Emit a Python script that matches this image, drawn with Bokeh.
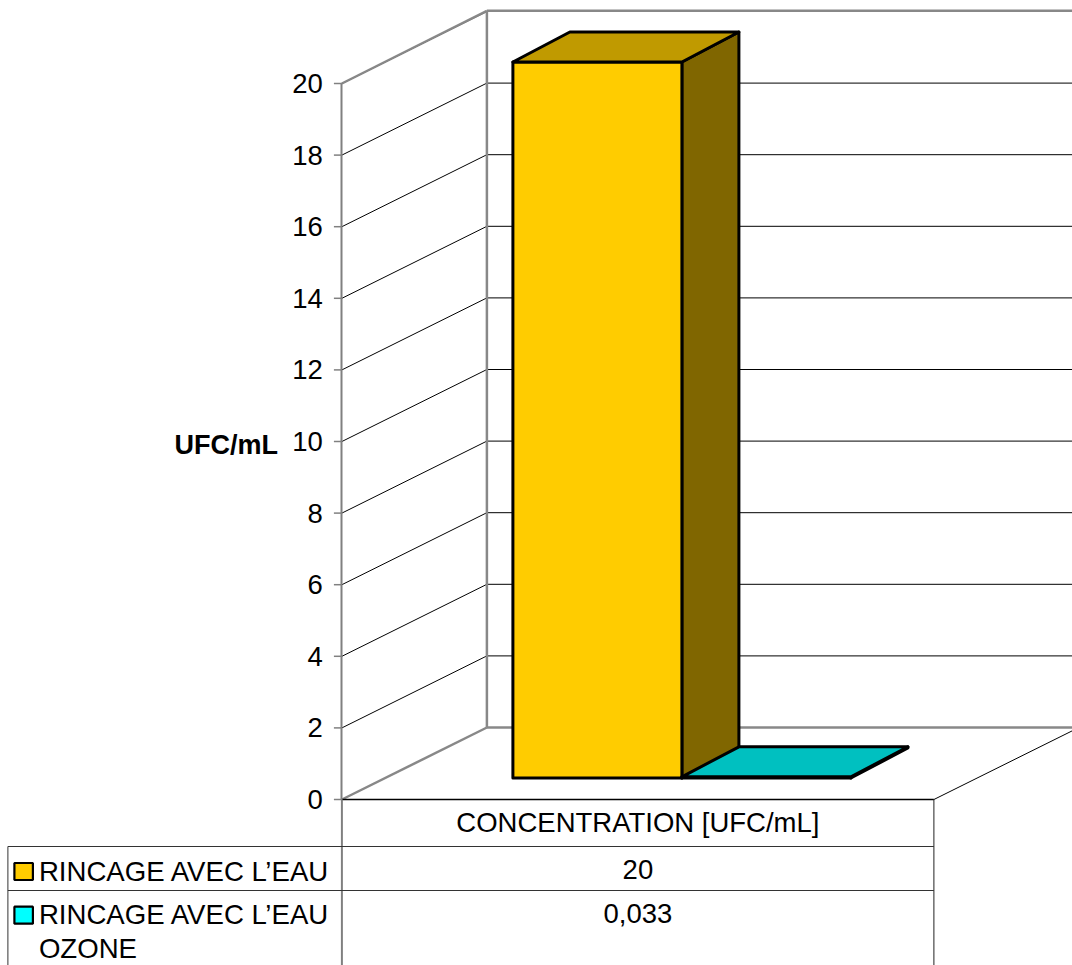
from bokeh.embed import file_html
from bokeh.resources import INLINE
from bokeh.plotting import figure
from bokeh.models import Range1d, FixedTicker, LinearAxis
from bokeh.core.properties import value

# Chart data
category = "CONCENTRATION [UFC/mL]"
series_names = ["RINCAGE AVEC L\u2019EAU", "RINCAGE AVEC L\u2019EAU\nOZONE"]
series_values = [20, 0.033]
value_labels = ["20", "0,033"]
y_ticks = list(range(0, 21, 2))

# Colours of the extruded bars
front_colors = ["#FFCC00", "#00FFFF"]
top_colors = ["#C09A00", "#00C0C0"]
side_colors = ["#806600", "#008080"]

FONT = "Liberation Sans"
TEXT_SIZE = "27.5px"
W, H = 1072, 965
AXIS_X = 342
PX_PER_UNIT = 35.8
Y0 = 799


def vy(sy):
    """Value-axis coordinate of a row measured from the top of the page."""
    return (Y0 - sy) / PX_PER_UNIT


p = figure(width=W, height=H, output_backend="svg", toolbar_location=None,
           x_range=Range1d(0.6, W + 0.6), y_range=Range1d(vy(H), vy(0)),
           min_border_left=0, min_border_right=0, min_border_top=0, min_border_bottom=0,
           x_axis_location=None, y_axis_location=None, outline_line_color=None)
p.grid.visible = False

# Value axis, pinned to the front edge of the side wall
ax = LinearAxis(fixed_location=AXIS_X, ticker=FixedTicker(ticks=y_ticks), bounds=(0, 20))
ax.axis_line_color = "#808080"
ax.axis_line_width = 2
ax.major_tick_line_color = None
ax.major_tick_in = 0
ax.major_tick_out = 8
ax.minor_tick_line_color = None
ax.major_label_standoff = 11
ax.major_label_text_font = FONT
ax.major_label_text_font_size = TEXT_SIZE
ax.major_label_text_color = "#000000"
p.add_layout(ax, "left")

# Tick marks reaching out from the wall edge
for t in y_ticks:
    p.line([AXIS_X - 8, AXIS_X], [t, t], line_color="#808080", line_width=1.5, level="overlay")

# 3D box geometry
WALL_X = 487
DEPTH_Y = vy(727) - vy(799)
BAR_DX, BAR_DEPTH_X = 169, 57
BAR_DEPTH_Y = vy(747) - vy(777)
BASE = vy(777.5)

# Gridlines on the side wall and the back wall
for t in y_ticks[1:]:
    p.line([AXIS_X, WALL_X], [t, t + DEPTH_Y], line_color="#000000", line_width=1)
    p.line([WALL_X, W + 1], [t + DEPTH_Y, t + DEPTH_Y], line_color="#000000", line_width=1)

# Wall edges
edge = dict(line_color="#888888", line_width=2.5)
p.line([AXIS_X, WALL_X], [20, 20 + DEPTH_Y + 0.02], **edge)
p.line([AXIS_X, WALL_X], [0, DEPTH_Y], **edge)
p.line([WALL_X, WALL_X], [DEPTH_Y, 20 + DEPTH_Y + 0.02], **edge)
p.line([WALL_X, W + 1], [20 + DEPTH_Y + 0.02, 20 + DEPTH_Y + 0.02], **edge)
p.line([WALL_X, W + 1], [DEPTH_Y, DEPTH_Y], **edge)

# Floor edge
p.line([AXIS_X, 934], [0, 0], line_color="#000000", line_width=1.5)
p.line([934, W + 1], [0, vy(730)], line_color="#000000", line_width=1)

# Bars, one beside the other, each from its own value
outline = dict(line_color="#000000", line_width=3, line_join="round")
for i, v in enumerate(series_values):
    x0 = 513 + i * BAR_DX
    x1 = x0 + BAR_DX
    top = BASE + v
    p.patch([x1, x1 + BAR_DEPTH_X, x1 + BAR_DEPTH_X, x1],
            [BASE, BASE + BAR_DEPTH_Y, top + BAR_DEPTH_Y, top],
            fill_color=side_colors[i], **outline)
    p.patch([x0, x1, x1, x0], [BASE, BASE, top, top], fill_color=front_colors[i], **outline)
    p.patch([x0, x1, x1 + BAR_DEPTH_X, x0 + BAR_DEPTH_X],
            [top, top, top + BAR_DEPTH_Y, top + BAR_DEPTH_Y],
            fill_color=top_colors[i], **outline)


def rule(xs, rows, color="#333333", width=1):
    p.line(xs, [vy(r) for r in rows], line_color=color, line_width=width)


def caption(text, x, row, size=TEXT_SIZE, align="left", bold=False):
    p.text([x], [vy(row)], text=[text], text_font=value(FONT), text_font_size=size,
           text_align=align, text_baseline="middle", text_color="#000000",
           text_font_style="bold" if bold else "normal")


# Data table below the floor
rule([AXIS_X, AXIS_X], [799, H + 2], color="#808080", width=2)
rule([934, 934], [799, H + 2], color="#222222")
rule([8, 8], [846, H + 2])
rule([8, 934], [846, 846])
rule([8, 934], [890, 890])

caption(category, 638, 822, align="center")
for i, label in enumerate(value_labels):
    caption(label, 638, 869 + i * 44, align="center")

# Legend keys and series names inside the table
for i, name in enumerate(series_names):
    row = 871 + i * 43.7
    p.patch([14.5, 33, 33, 14.5], [vy(row - 8.5), vy(row - 8.5), vy(row + 8.5), vy(row + 8.5)],
            fill_color=front_colors[i], line_color="#000000", line_width=2.2)
    for j, line in enumerate(name.split("\n")):
        caption(line, 39, row - 0.5 + j * 34, size="27.6px")

caption("UFC/mL", 278, 444.5, size="27px", align="right", bold=True)

open("out.html", "w").write(file_html(p, INLINE))
